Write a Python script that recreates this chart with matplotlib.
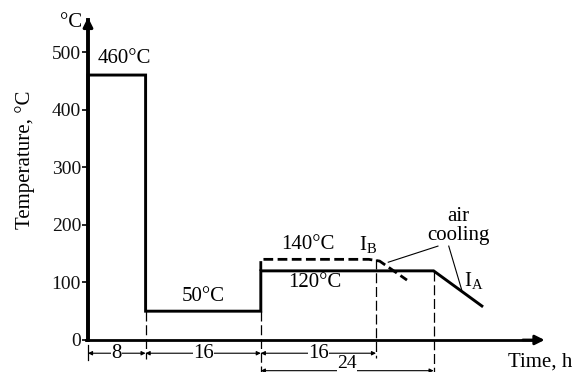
import matplotlib
matplotlib.use("Agg")
import matplotlib.pyplot as plt

plt.rcParams['font.family'] = ['Liberation Serif', 'DejaVu Serif']
plt.rcParams['mathtext.fontset'] = 'custom'
plt.rcParams['mathtext.rm'] = 'Liberation Serif'
plt.rcParams['mathtext.it'] = 'Liberation Serif:italic'

# ---- data ----
time_main = [0, 0, 8, 8, 24, 24, 48, 54.7]
temp_main = [0, 460, 460, 50, 50, 120, 120, 59]
time_alt = [24, 24, 39, 40.5, 44.3]
temp_alt = [120, 140, 140, 137, 104]
yticks = [0, 100, 200, 300, 400, 500]
stage_bounds_row1 = [0, 8, 24, 40]
stage_labels_row1 = ["8", "16", "16"]
stage_bounds_row2 = [24, 48]
stage_labels_row2 = ["24"]

fig = plt.figure(figsize=(5.79, 3.72), dpi=100)
ax = fig.add_axes([0, 0, 1, 1])
ax.set_xlim(-12.22, 68.19)
ax.set_ylim(-55.6, 590.3)

for s in ['top', 'right']:
    ax.spines[s].set_visible(False)
ax.spines['left'].set_position(('data', 0))
ax.spines['bottom'].set_position(('data', 0))
ax.spines['left'].set_bounds(0, 555)
ax.spines['bottom'].set_bounds(-0.3, 62)
ax.spines['left'].set_linewidth(2.8)
ax.spines['bottom'].set_linewidth(2.0)
ax.set_xticks([])
ax.set_yticks(yticks)
ax.set_yticklabels([str(v) for v in yticks])
ax.tick_params(axis='y', direction='out', length=4, width=1.2, pad=1,
               labelsize=14, labelcolor='#111111')

# axis arrows
ax.annotate('', xy=(0, 565), xytext=(0, 540),
            arrowprops=dict(arrowstyle='-|>', lw=2.2, color='black',
                            mutation_scale=14), annotation_clip=False)
ax.annotate('', xy=(63.8, 0), xytext=(60, 0),
            arrowprops=dict(arrowstyle='-|>', lw=2.0, color='black',
                            mutation_scale=14), annotation_clip=False)

# main profile
ax.plot(time_main, temp_main, color='black', lw=2.1, solid_joinstyle='miter')
# alternate profile (dashed)
ax.plot(time_alt, temp_alt, color='black', lw=2.0, ls=(0, (3.5, 1.6)))

# dashed reference verticals
dash = dict(color='black', lw=0.9, ls=(0, (8, 3)))
ax.plot([8, 8], [50, -33], **dash)
ax.plot([24, 24], [50, -56], **dash)
ax.plot([40, 40], [140, -31], **dash)
ax.plot([48, 48], [120, -56], **dash)
ax.plot([0, 0], [-9, -35], color='black', lw=0.9)


def dim(x0, x1, y, label, ty=None, va='center', size=15):
    ax.annotate('', xy=(x1, y), xytext=(x0, y),
                arrowprops=dict(arrowstyle='<|-|>', lw=0.8, color='black',
                                mutation_scale=6, shrinkA=0, shrinkB=0),
                annotation_clip=False)
    ax.text((x0 + x1) / 2, y if ty is None else ty, label, ha='center',
            va=va, fontsize=size,
            bbox=dict(facecolor='white', edgecolor='none', pad=0.2))


for i, lab in enumerate(stage_labels_row1):
    dim(stage_bounds_row1[i], stage_bounds_row1[i + 1], -23, lab)
for i, lab in enumerate(stage_labels_row2):
    dim(stage_bounds_row2[i], stage_bounds_row2[i + 1], -53.3, lab,
        ty=-48, va='baseline', size=14)

# labels
fs = 15
ax.text(-0.8, 552, '°C', ha='right', va='center', fontsize=fs)
ax.text(5.0, 488, '460°C', ha='center', va='center', fontsize=fs)
ax.text(16.0, 76, '50°C', ha='center', va='center', fontsize=fs)
ax.text(30.6, 166, '140°C', ha='center', va='center', fontsize=fs)
ax.text(31.5, 99, '120°C', ha='center', va='center', fontsize=fs)
ax.text(38.9, 166, r'I$_\mathrm{B}$', ha='center', va='center', fontsize=fs)
ax.text(53.6, 104, r'I$_\mathrm{A}$', ha='center', va='center', fontsize=fs)
ax.text(51.4, 214, 'air', ha='center', va='center', fontsize=fs)
ax.text(51.4, 182, 'cooling', ha='center', va='center', fontsize=fs)
ax.text(62.8, -38, 'Time, h', ha='center', va='center', fontsize=fs)
ax.text(-8.75, 312, 'Temperature, °C', ha='center', va='center',
        rotation=90, fontsize=fs)

# leader lines
ax.plot([48.6, 41.7], [163, 135], color='black', lw=0.8)
ax.plot([50.1, 51.9], [163, 87], color='black', lw=0.8)

fig.savefig('out.png', dpi=100, facecolor='white')
